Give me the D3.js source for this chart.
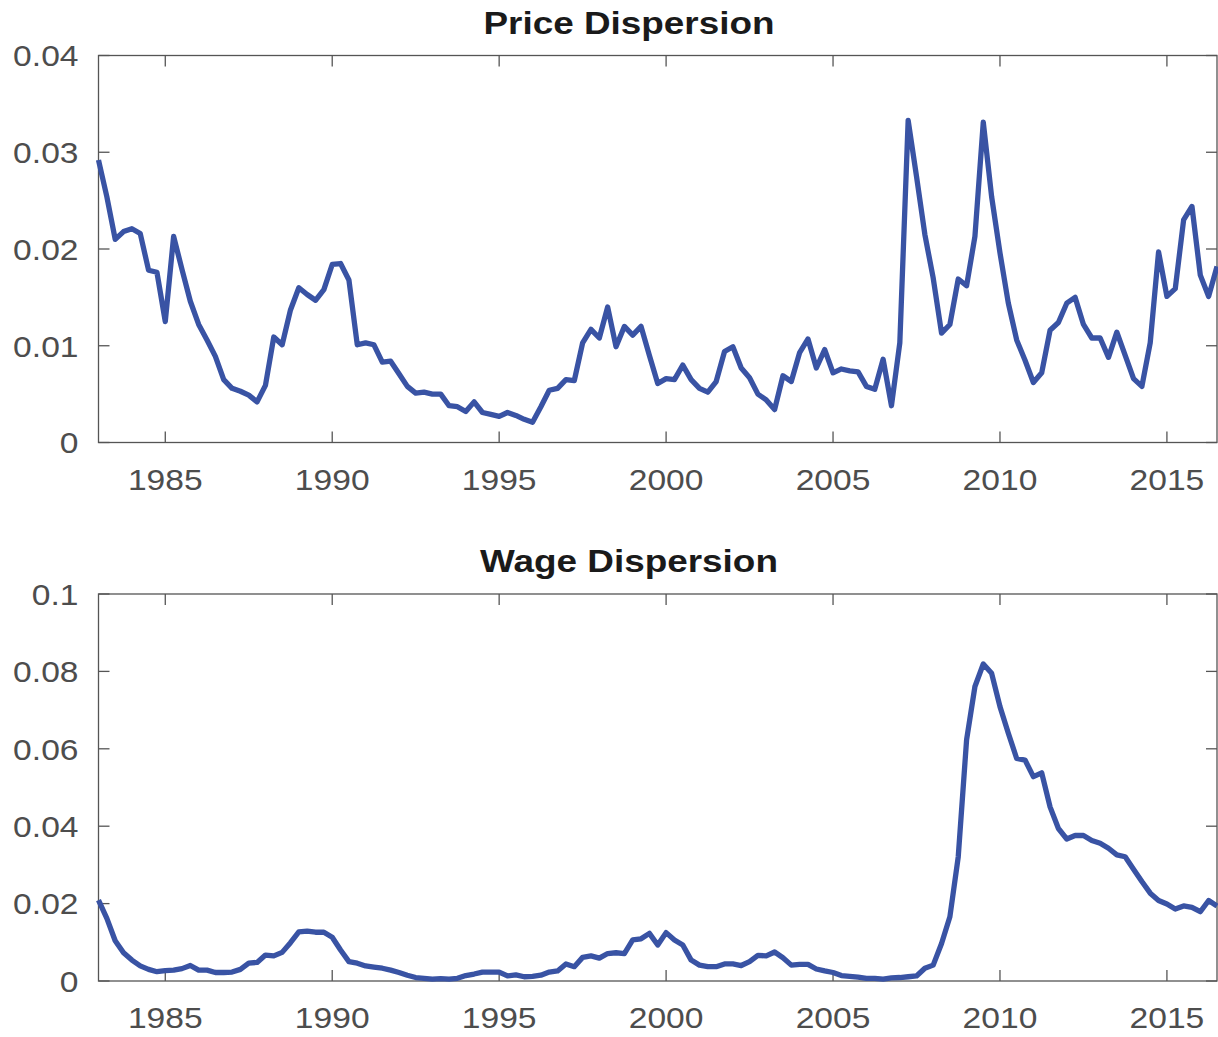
<!DOCTYPE html>
<html>
<head>
<meta charset="utf-8">
<script src="https://cdn.jsdelivr.net/npm/d3@7"></script>
<style>
  body { margin: 0; background: #fff; }
  svg { display: block; font-family: "Liberation Sans", Arial, sans-serif; }
</style>
</head>
<body>
<div id="chart"></div>
<script>
// Quarterly series, 1983Q1 .. 2016Q3
const startYear = 1983;
const priceDispersion = [
  0.0292, 0.0254, 0.0210, 0.0218, 0.0221, 0.0216, 0.0178, 0.0176, 0.0125, 0.0213,
  0.0179, 0.0146, 0.0122, 0.0106, 0.0089, 0.0065, 0.0056, 0.0053, 0.0049, 0.0042,
  0.0059, 0.0109, 0.0101, 0.0137, 0.0160, 0.0153, 0.0147, 0.0158, 0.0184, 0.0185,
  0.0168, 0.0101, 0.0103, 0.0101, 0.0083, 0.0084, 0.0071, 0.0058, 0.0051, 0.0052,
  0.0050, 0.0050, 0.0038, 0.0037, 0.0032, 0.0042, 0.0031, 0.0029, 0.0027, 0.0031,
  0.0028, 0.0024, 0.0021, 0.0037, 0.0054, 0.0056, 0.0065, 0.0064, 0.0103, 0.0117,
  0.0108, 0.0140, 0.0099, 0.0120, 0.0111, 0.0120, 0.0090, 0.0061, 0.0066, 0.0065,
  0.0080, 0.0065, 0.0056, 0.0052, 0.0063, 0.0094, 0.0099, 0.0077, 0.0067, 0.0050,
  0.0044, 0.0034, 0.0069, 0.0063, 0.0093, 0.0107, 0.0077, 0.0096, 0.0072, 0.0076,
  0.0074, 0.0073, 0.0058, 0.0055, 0.0086, 0.0038, 0.0103, 0.0333, 0.0275, 0.0215,
  0.0170, 0.0113, 0.0122, 0.0169, 0.0162, 0.0213, 0.0331, 0.0254, 0.0196, 0.0144,
  0.0106, 0.0085, 0.0062, 0.0072, 0.0116, 0.0124, 0.0144, 0.0150, 0.0122, 0.0108,
  0.0108, 0.0088, 0.0114, 0.0090, 0.0066, 0.0058, 0.0103, 0.0197, 0.0151, 0.0159,
  0.0230, 0.0244, 0.0173, 0.0151, 0.0182
];
const wageDispersion = [
  0.0209, 0.0162, 0.0104, 0.0073, 0.0054, 0.0039, 0.0030, 0.0024, 0.0027, 0.0028,
  0.0032, 0.0040, 0.0028, 0.0028, 0.0022, 0.0022, 0.0023, 0.0030, 0.0046, 0.0048,
  0.0067, 0.0065, 0.0074, 0.0099, 0.0127, 0.0129, 0.0126, 0.0126, 0.0113, 0.0080,
  0.0050, 0.0046, 0.0039, 0.0036, 0.0033, 0.0028, 0.0022, 0.0015, 0.0009, 0.0007,
  0.0005, 0.0006, 0.0005, 0.0007, 0.0014, 0.0018, 0.0023, 0.0023, 0.0023, 0.0013,
  0.0016, 0.0011, 0.0012, 0.0015, 0.0023, 0.0026, 0.0044, 0.0037, 0.0061, 0.0065,
  0.0059, 0.0071, 0.0073, 0.0071, 0.0106, 0.0109, 0.0123, 0.0093, 0.0125, 0.0106,
  0.0093, 0.0054, 0.0041, 0.0037, 0.0037, 0.0044, 0.0044, 0.0040, 0.0050, 0.0066,
  0.0065, 0.0075, 0.0060, 0.0041, 0.0043, 0.0043, 0.0031, 0.0026, 0.0022, 0.0014,
  0.0012, 0.0010, 0.0007, 0.0007, 0.0005, 0.0008, 0.0009, 0.0011, 0.0013, 0.0033,
  0.0041, 0.0097, 0.0166, 0.0321, 0.0623, 0.0761, 0.0819, 0.0795, 0.0709, 0.0640,
  0.0575, 0.0571, 0.0528, 0.0538, 0.0450, 0.0394, 0.0367, 0.0376, 0.0376, 0.0363,
  0.0356, 0.0343, 0.0326, 0.0321, 0.0289, 0.0257, 0.0227, 0.0208, 0.0199, 0.0186,
  0.0194, 0.0190, 0.0179, 0.0208, 0.0194
];
const xTicks = [1985, 1990, 1995, 2000, 2005, 2010, 2015];
const priceTicks = [0, 0.01, 0.02, 0.03, 0.04];
const wageTicks = [0, 0.02, 0.04, 0.06, 0.08, 0.1];

const width = 1218, height = 1037;
const left = 98.5, right = 1217;
const lineColor = "#3953a4";
const axisColor = "#555555";
const tickLen = 11;
// the reference lettering is a bit wider than Liberation Sans
const labelStretch = 1.12, titleStretch = 1.19;

const svg = d3.select("#chart").append("svg")
  .attr("width", width)
  .attr("height", height);

function drawPanel(opts) {
  const x = d3.scaleLinear().domain([1983, 2016.5]).range([left, right]);
  const y = d3.scaleLinear().domain([0, opts.yMax]).range([opts.bottom, opts.top]);
  const g = svg.append("g");

  // box
  g.append("rect")
    .attr("x", left).attr("y", opts.top)
    .attr("width", right - left).attr("height", opts.bottom - opts.top)
    .attr("fill", "none").attr("stroke", axisColor).attr("stroke-width", 1.3);

  // inward ticks on all four sides
  g.selectAll(".xtb").data(xTicks).enter().append("line")
    .attr("x1", d => x(d)).attr("x2", d => x(d))
    .attr("y1", opts.bottom).attr("y2", opts.bottom - tickLen)
    .attr("stroke", axisColor).attr("stroke-width", 1.3);
  g.selectAll(".xtt").data(xTicks).enter().append("line")
    .attr("x1", d => x(d)).attr("x2", d => x(d))
    .attr("y1", opts.top).attr("y2", opts.top + tickLen)
    .attr("stroke", axisColor).attr("stroke-width", 1.3);
  g.selectAll(".ytl").data(opts.ticks).enter().append("line")
    .attr("x1", left).attr("x2", left + tickLen)
    .attr("y1", d => y(d)).attr("y2", d => y(d))
    .attr("stroke", axisColor).attr("stroke-width", 1.3);
  g.selectAll(".ytr").data(opts.ticks).enter().append("line")
    .attr("x1", right).attr("x2", right - tickLen)
    .attr("y1", d => y(d)).attr("y2", d => y(d))
    .attr("stroke", axisColor).attr("stroke-width", 1.3);

  // tick labels
  g.selectAll(".xl").data(xTicks).enter().append("text")
    .attr("transform", d => `translate(${x(d)},${opts.bottom + 47}) scale(${labelStretch},1)`)
    .attr("text-anchor", "middle")
    .attr("font-size", 30).attr("fill", "#4d4d4d")
    .text(d => d);
  g.selectAll(".yl").data(opts.ticks).enter().append("text")
    .attr("transform", d => `translate(${left - 20},${y(d)}) scale(${labelStretch},1)`)
    .attr("dy", "0.36em")
    .attr("text-anchor", "end")
    .attr("font-size", 30).attr("fill", "#4d4d4d")
    .text(d => d3.format("~g")(d));

  // title
  g.append("text")
    .attr("transform", `translate(629,${opts.top - 22}) scale(${titleStretch},1)`)
    .attr("text-anchor", "middle")
    .attr("font-size", 31).attr("font-weight", "bold").attr("fill", "#1a1a1a")
    .text(opts.title);

  // series
  const line = d3.line()
    .x((d, i) => x(startYear + i / 4))
    .y(d => y(d));
  g.append("path")
    .datum(opts.values)
    .attr("d", line)
    .attr("fill", "none")
    .attr("stroke", lineColor)
    .attr("stroke-width", 5.3)
    .attr("stroke-linejoin", "round");
}

drawPanel({ title: "Price Dispersion", values: priceDispersion, yMax: 0.04, ticks: priceTicks, top: 55.5, bottom: 442.5 });
drawPanel({ title: "Wage Dispersion", values: wageDispersion, yMax: 0.1, ticks: wageTicks, top: 594, bottom: 981 });
</script>
</body>
</html>
